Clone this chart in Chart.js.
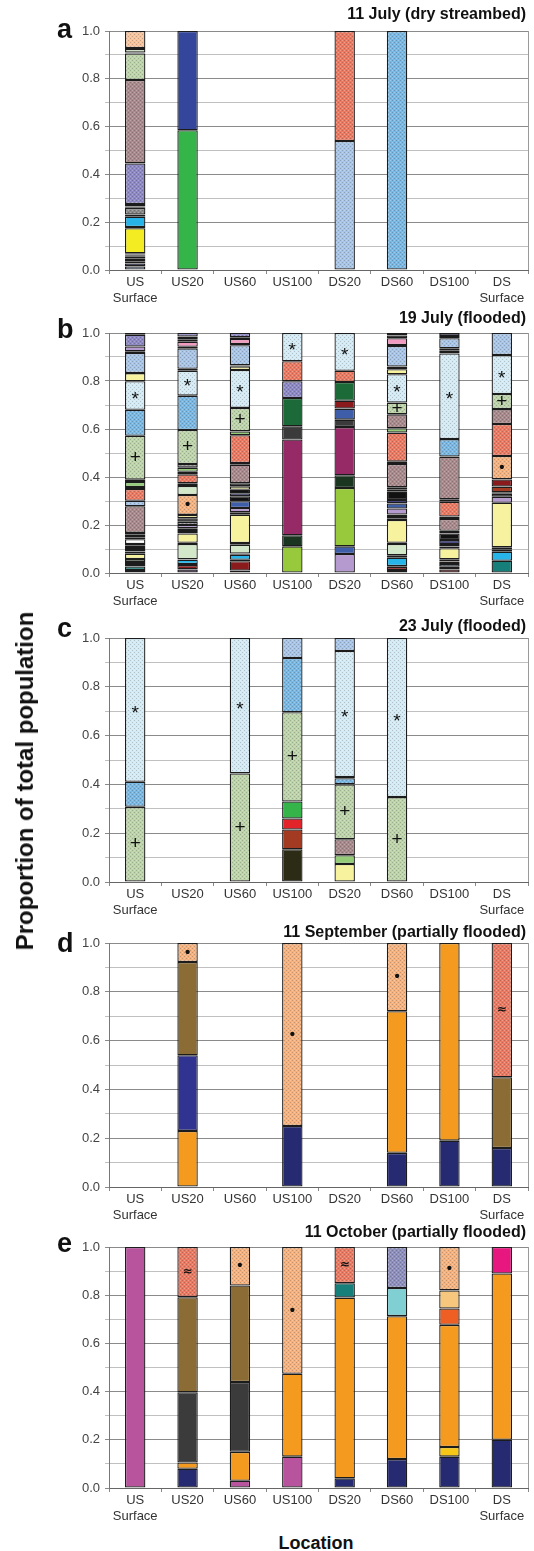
<!DOCTYPE html>
<html>
<head>
<meta charset="utf-8">
<script src="https://cdn.jsdelivr.net/npm/chart.js@4.4.1/dist/chart.umd.min.js"></script>
<style>
  body { margin: 0; background: #fff; width: 534px; height: 1551px; position: relative; overflow: hidden; font-family: 'Liberation Sans', Arial, sans-serif; }
  .panel { position: absolute; left: 0; width: 534px; }
  #ytitle { position: absolute; left: 25px; top: 781px; transform: translate(-50%, -50%) rotate(-90deg); font-weight: bold; font-size: 24px; white-space: nowrap; color: #111; }
  #xtitle { position: absolute; left: 316px; top: 1543px; transform: translate(-50%, -50%); font-weight: bold; font-size: 18px; color: #111; }
</style>
</head>
<body>
<div class="panel" style="top:0;height:305px"><canvas id="chartA"></canvas></div>
<div class="panel" style="top:305px;height:305px"><canvas id="chartB"></canvas></div>
<div class="panel" style="top:610px;height:310px"><canvas id="chartC"></canvas></div>
<div class="panel" style="top:920px;height:302px"><canvas id="chartD"></canvas></div>
<div class="panel" style="top:1222px;height:306px"><canvas id="chartE"></canvas></div>
<div id="ytitle">Proportion of total population</div>
<div id="xtitle">Location</div>
<script>
const locations = ['US Surface', 'US20', 'US60', 'US100', 'DS20', 'DS60', 'DS100', 'DS Surface'];

// a: 11 July (dry streambed) - taxa per bar, bottom to top
const aTaxa = [
  ['ltblue', 'navy', 'black', 'teal', 'black', 'rust', 'orange', 'black', 'yellow', 'navy', 'cyan', 'black', 'gray', 'orange', 'black', 'lav', 'mauve', 'pgreen', 'black', 'mint', 'black', 'peach'],
  ['green', 'blue'], [], [], ['ltblue', 'salmon'], ['sky'], [], []
];
const aVals = [
  [0.015, 0.012, 0.01, 0.01, 0.008, 0.005, 0.005, 0.005, 0.105, 0.005, 0.043, 0.009, 0.028, 0.006, 0.01, 0.17, 0.349, 0.111, 0.004, 0.015, 0.004, 0.071],
  [0.585, 0.415], [], [], [0.54, 0.46], [1.0], [], []
];

// b: 19 July (flooded)
const bTaxa = [
  ['indigo', 'teal', 'cyan', 'black', 'mint', 'pyellow', 'gray', 'dred', 'black', 'dred', 'black', 'white', 'navy', 'gray', 'black', 'mauve', 'ltblue', 'salmon', 'black', 'lgreen', 'black', 'pgreenP', 'sky', 'paleS', 'pyellow', 'ltblue', 'black', 'lilac', 'lav', 'gray'],
  ['dpurple', 'dred', 'black', 'cyan', 'black', 'mint', 'black', 'pyellow', 'gray', 'mauve', 'lilac', 'gray', 'black', 'pyellow', 'peachD', 'mint', 'black', 'salmon', 'black', 'lgreen', 'gray', 'pgreenP', 'sky', 'paleS', 'pyellow', 'ltblue', 'black', 'pink', 'mauve', 'pink', 'lav'],
  ['black', 'dred', 'black', 'cyan', 'black', 'mint', 'black', 'pyellow', 'black', 'lilac', 'rblue', 'black', 'navy', 'black', 'pyellow', 'black', 'mauve', 'black', 'salmon', 'lgreen', 'pgreenP', 'paleS', 'pyellow', 'black', 'ltblue', 'black', 'pink', 'black', 'lav'],
  ['lime', 'vdgreen', 'plum', 'dgray', 'dgreen', 'lav', 'salmon', 'paleS'],
  ['lilac', 'rblue', 'lime', 'vdgreen', 'plum', 'dgray', 'rblue', 'dred', 'dgreen', 'salmon', 'paleS'],
  ['black', 'dred', 'black', 'cyan', 'black', 'mint', 'black', 'pyellow', 'black', 'sky', 'black', 'lilac', 'rblue', 'navy', 'black', 'pyellow', 'black', 'mauve', 'ltblue', 'salmon', 'lgreen', 'mauve', 'pgreenP', 'paleS', 'pyellow', 'black', 'ltblue', 'black', 'pink', 'black', 'lav'],
  ['dred', 'black', 'sky', 'gray', 'mint', 'pyellow', 'black', 'lilac', 'navy', 'black', 'gray', 'mauve', 'black', 'salmon', 'lgreen', 'mauve', 'sky', 'paleS', 'pyellow', 'black', 'ltblue', 'black', 'lav'],
  ['teal', 'cyan', 'mint', 'black', 'pyellow', 'lilac', 'black', 'sgreen', 'rust', 'dred', 'peachD', 'salmon', 'mauve', 'pgreenP', 'paleS', 'ltblue']
];
const bVals = [
  [0.012, 0.015, 0.011, 0.008, 0.012, 0.022, 0.01, 0.01, 0.008, 0.008, 0.005, 0.02, 0.008, 0.01, 0.008, 0.111, 0.023, 0.049, 0.008, 0.021, 0.01, 0.183, 0.108, 0.119, 0.034, 0.084, 0.007, 0.02, 0.049, 0.007],
  [0.015, 0.018, 0.004, 0.018, 0.002, 0.064, 0.005, 0.039, 0.01, 0.011, 0.014, 0.014, 0.014, 0.014, 0.083, 0.038, 0.011, 0.037, 0.011, 0.017, 0.015, 0.142, 0.143, 0.104, 0.008, 0.085, 0.007, 0.021, 0.01, 0.011, 0.015],
  [0.01, 0.039, 0.006, 0.021, 0.005, 0.037, 0.007, 0.118, 0.01, 0.018, 0.028, 0.021, 0.012, 0.015, 0.014, 0.013, 0.077, 0.007, 0.116, 0.016, 0.098, 0.158, 0.015, 0.004, 0.084, 0.005, 0.021, 0.007, 0.018],
  [0.111, 0.046, 0.399, 0.055, 0.118, 0.07, 0.083, 0.118],
  [0.079, 0.032, 0.243, 0.053, 0.201, 0.031, 0.046, 0.033, 0.078, 0.047, 0.157],
  [0.0125, 0.0135, 0.003, 0.035, 0.01, 0.047, 0.005, 0.095, 0.007, 0.01, 0.006, 0.025, 0.021, 0.014, 0.035, 0.01, 0.008, 0.097, 0.01, 0.121, 0.018, 0.058, 0.049, 0.118, 0.021, 0.011, 0.086, 0.004, 0.028, 0.012, 0.01],
  [0.015, 0.011, 0.0115, 0.01, 0.0095, 0.046, 0.007, 0.011, 0.016, 0.028, 0.011, 0.049, 0.01, 0.062, 0.01, 0.178, 0.073, 0.357, 0.011, 0.01, 0.042, 0.01, 0.012],
  [0.051, 0.038, 0.01, 0.008, 0.186, 0.025, 0.012, 0.006, 0.024, 0.03, 0.0975, 0.1335, 0.062, 0.063, 0.162, 0.092]
];

// c: 23 July (flooded)
const cTaxa = [
  ['pgreenP', 'sky', 'paleS'], [], ['pgreenP', 'paleS'],
  ['olive', 'rust', 'red', 'green', 'pgreenP', 'sky', 'ltblue'],
  ['pyellow', 'lgreen', 'mauve', 'pgreenP', 'sky', 'dgray', 'paleS', 'ltblue'],
  ['pgreenP', 'paleS'], [], []
];
const cVals = [
  [0.308, 0.103, 0.589], [], [0.445, 0.555],
  [0.134, 0.081, 0.045, 0.07, 0.366, 0.222, 0.082],
  [0.074, 0.036, 0.065, 0.225, 0.025, 0.005, 0.517, 0.053],
  [0.348, 0.652], [], []
];

// d: 11 September (partially flooded)
const dTaxa = [
  [], ['orange', 'indigo', 'brown', 'peachD'], [], ['navy', 'peachD'], [],
  ['navy', 'orange', 'peachD'], ['navy', 'orange'], ['navy', 'brown', 'salmonA']
];
const dVals = [
  [], [0.23, 0.31, 0.382, 0.078], [], [0.25, 0.75], [],
  [0.14, 0.58, 0.28], [0.19, 0.81], [0.16, 0.29, 0.55]
];

// e: 11 October (partially flooded)
const eTaxa = [
  ['violet'], ['navy', 'orange', 'dgray', 'brown', 'salmonA'], ['violet', 'orange', 'dgray', 'brown', 'peachD'],
  ['violet', 'orange', 'peachD'], ['navy', 'orange', 'teal', 'salmonA'], ['navy', 'orange', 'aqua', 'slate'],
  ['navy', 'gold', 'orange', 'rorange', 'lorange', 'peachD'], ['navy', 'orange', 'magenta']
];
const eVals = [
  [1.0], [0.08, 0.026, 0.291, 0.395, 0.208], [0.03, 0.12, 0.29, 0.4, 0.16],
  [0.13, 0.344, 0.526], [0.04, 0.75, 0.06, 0.15], [0.12, 0.593, 0.117, 0.17],
  [0.13, 0.04, 0.507, 0.068, 0.075, 0.18], [0.2, 0.69, 0.11]
];

// taxon look: fill colour, stippled or not, symbol drawn inside
const taxonStyle = {
  peach:   { c: '#f6c39c', dots: true },
  peachD:  { c: '#f5b27e', dots: true, mark: '•' },
  pgreen:  { c: '#bdd4ab', dots: true },
  pgreenP: { c: '#bdd4ab', dots: true, mark: '+' },
  paleS:   { c: '#d4ebf5', dots: true, mark: '*' },
  mauve:   { c: '#a98a8c', dots: true },
  lav:     { c: '#8d88c6', dots: true },
  ltblue:  { c: '#a8c4e6', dots: true },
  sky:     { c: '#7ab8e4', dots: true },
  salmon:  { c: '#ec7a62', dots: true },
  salmonA: { c: '#ec7a62', dots: true, mark: '≈' },
  slate:   { c: '#8e8fbd', dots: true },
  gray:    { c: '#8a8a8a', dots: true },
  cyan: { c: '#27b4e8' }, yellow: { c: '#f4ec22' }, green: { c: '#35b44a' }, blue: { c: '#34469c' },
  navy: { c: '#262a70' }, black: { c: '#111111' }, teal: { c: '#177f7a' }, rust: { c: '#a33a22' },
  orange: { c: '#f39a1f' }, mint: { c: '#d2e8c8' }, pyellow: { c: '#f7f29e' }, white: { c: '#ffffff' },
  dred: { c: '#8a1a1c' }, lgreen: { c: '#94cc78' }, pink: { c: '#f29bc0' }, lilac: { c: '#b59ad0' },
  indigo: { c: '#30338f' }, dpurple: { c: '#4d2253' }, rblue: { c: '#3f5eaa' }, lime: { c: '#98c93c' },
  vdgreen: { c: '#1a3520' }, plum: { c: '#952a66' }, dgray: { c: '#3b3b3b' }, dgreen: { c: '#1b6a38' },
  sgreen: { c: '#2f8f5a' }, olive: { c: '#2c2c16' }, red: { c: '#e2232a' }, brown: { c: '#8c6c35' },
  violet: { c: '#b8549e' }, magenta: { c: '#e8177f' }, aqua: { c: '#7fcfd3' }, gold: { c: '#f6c717' },
  rorange: { c: '#ef5f24' }, lorange: { c: '#f8c77e' }
};

function shade(hex, f) {
  const n = parseInt(hex.slice(1), 16);
  let r = n >> 16, g = (n >> 8) & 255, b = n & 255;
  const t = f < 0 ? 0 : 255, p = Math.abs(f);
  r = Math.round(r + (t - r) * p); g = Math.round(g + (t - g) * p); b = Math.round(b + (t - b) * p);
  return 'rgb(' + r + ',' + g + ',' + b + ')';
}

const patternCache = {};
function fillFor(key) {
  const s = taxonStyle[key];
  if (!s.dots) return s.c;
  if (patternCache[key]) return patternCache[key];
  const cv = document.createElement('canvas');
  cv.width = cv.height = 4;
  const g = cv.getContext('2d');
  g.fillStyle = s.c; g.fillRect(0, 0, 4, 4);
  g.fillStyle = shade(s.c, -0.18); g.fillRect(0, 0, 1, 1); g.fillRect(2, 2, 1, 1);
  g.fillStyle = shade(s.c, 0.25); g.fillRect(2, 0, 1, 1); g.fillRect(0, 2, 1, 1);
  patternCache[key] = g.createPattern(cv, 'repeat');
  return patternCache[key];
}

const tickFont = { family: "'Liberation Sans Narrow', 'Arial Narrow', 'Liberation Sans', Arial", size: 13 };

// panel title, letter, symbols and right frame line
const decorate = {
  id: 'decorate',
  afterDraw(chart) {
    const o = chart.options.plugins.decorate;
    const { ctx, chartArea } = chart;
    ctx.save();
    ctx.strokeStyle = '#9a9a9a';
    ctx.lineWidth = 1;
    ctx.beginPath();
    ctx.moveTo(chartArea.right + 0.5, chartArea.top);
    ctx.lineTo(chartArea.right + 0.5, chartArea.bottom);
    ctx.stroke();

    ctx.fillStyle = '#111';
    ctx.font = "bold 16px 'Liberation Sans', Arial";
    ctx.textAlign = 'right';
    ctx.textBaseline = 'middle';
    ctx.fillText(o.title, chartArea.right - 2, chartArea.top - o.titleGap);

    ctx.font = "bold 27px 'Liberation Sans', Arial";
    ctx.textAlign = 'left';
    ctx.textBaseline = 'alphabetic';
    ctx.fillText(o.letter, 57, chartArea.top + o.letterDy);

    ctx.textAlign = 'center';
    ctx.textBaseline = 'middle';
    chart.data.datasets.forEach((ds, k) => {
      chart.getDatasetMeta(k).data.forEach((el, j) => {
        const key = o.taxa[j][k];
        if (!key || !taxonStyle[key].mark) return;
        const mark = taxonStyle[key].mark;
        const cy = (el.y + el.base) / 2;
        if (mark === '*') { ctx.font = "19px 'Liberation Sans', Arial"; ctx.fillText(mark, el.x, cy + 4); }
        else if (mark === '+') { ctx.font = "19px 'Liberation Sans', Arial"; ctx.fillText(mark, el.x, cy); }
        else if (mark === '•') { ctx.font = "bold 15px 'Liberation Sans', Arial"; ctx.fillText(mark, el.x, cy); }
        else { ctx.font = "bold 12px 'DejaVu Sans', Arial"; ctx.fillText(mark, el.x, cy); }
      });
    });
    ctx.restore();
  }
};

function makePanel(id, taxa, vals, title, letter, lay) {
  const n = Math.max(...vals.map(v => v.length));
  const datasets = [];
  for (let k = 0; k < n; k++) {
    datasets.push({
      data: vals.map(v => (v[k] === undefined ? null : v[k])),
      backgroundColor: taxa.map(t => (t[k] ? fillFor(t[k]) : 'rgba(0,0,0,0)')),
      borderColor: '#1c1c1c',
      borderWidth: 1.3,
      borderSkipped: false,
      barPercentage: 0.39,
      categoryPercentage: 1
    });
  }
  new Chart(document.getElementById(id), {
    type: 'bar',
    data: { labels: locations, datasets },
    plugins: [decorate],
    options: {
      responsive: true,
      maintainAspectRatio: false,
      animation: false,
      layout: { padding: { top: lay.top, right: 6, left: 0, bottom: 0 } },
      plugins: {
        legend: { display: false },
        tooltip: { enabled: false },
        decorate: { title, letter, taxa, titleGap: lay.titleGap, letterDy: lay.letterDy }
      },
      scales: {
        x: {
          stacked: true,
          offset: true,
          grid: { offset: true, drawOnChartArea: false, tickLength: 4, color: '#888' },
          border: { color: '#666' },
          ticks: {
            color: '#333', font: tickFont, padding: 1, maxRotation: 0, autoSkip: false,
            callback: (v, i) => locations[i].split(' ')
          },
          afterFit: s => { s.height = lay.axisH; }
        },
        y: {
          stacked: true,
          min: 0,
          max: 1,
          grid: { color: c => (c.index % 2 ? '#c0c0c0' : '#8a8a8a'), tickLength: 4 },
          border: { color: '#777' },
          ticks: {
            stepSize: 0.1, color: '#444', font: tickFont, padding: 5,
            callback: (v, i) => (i % 2 === 0 ? v.toFixed(1) : '')
          },
          afterFit: s => { s.width = 109; }
        }
      }
    }
  });
}

makePanel('chartA', aTaxa, aVals, '11 July (dry streambed)', 'a', { top: 31, axisH: 35, titleGap: 16, letterDy: 7 });
makePanel('chartB', bTaxa, bVals, '19 July (flooded)', 'b', { top: 28, axisH: 37, titleGap: 14, letterDy: 5 });
makePanel('chartC', cTaxa, cVals, '23 July (flooded)', 'c', { top: 28, axisH: 38, titleGap: 11, letterDy: -1 });
makePanel('chartD', dTaxa, dVals, '11 September (partially flooded)', 'd', { top: 23, axisH: 35, titleGap: 10, letterDy: 9 });
makePanel('chartE', eTaxa, eVals, '11 October (partially flooded)', 'e', { top: 25, axisH: 40, titleGap: 14, letterDy: 5 });
</script>
</body>
</html>
